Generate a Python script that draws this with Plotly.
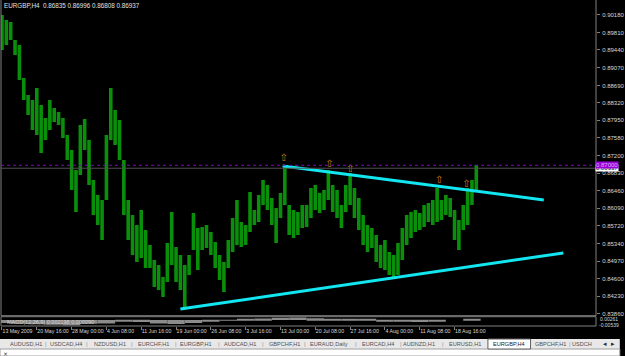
import plotly.graph_objects as go

# ---------------- data ----------------
symbol_header = "EURGBP,H4  0.86835 0.86996 0.86808 0.86937"
bar_index = list(range(0, 440, 4))  # H4 bar number (one sample per 4 bars)
high = [0.90180, 0.90074, 0.90031, 0.89651, 0.89545, 0.88847, 0.88487, 0.88381, 0.88635, 0.88275,
        0.88000, 0.88381, 0.88212, 0.88127, 0.88000, 0.87640, 0.87323, 0.86900, 0.87852, 0.87979,
        0.87535, 0.86688, 0.86371, 0.86265, 0.87640, 0.88635, 0.88169, 0.87958, 0.87111, 0.86265,
        0.85948, 0.85736, 0.86053, 0.85630, 0.85313, 0.84995, 0.84890, 0.84636, 0.85355, 0.86011,
        0.85270, 0.85101, 0.84890, 0.85101, 0.85990, 0.85673, 0.85694, 0.85736, 0.85588, 0.85376,
        0.85101, 0.84953, 0.85419, 0.85884, 0.86265, 0.85799, 0.85736, 0.86434, 0.86053, 0.86371,
        0.86688, 0.86582, 0.86307, 0.86096, 0.86413, 0.87006, 0.86159, 0.86053, 0.86011, 0.86159,
        0.86159, 0.86519, 0.86582, 0.86413, 0.86477, 0.86900, 0.86582, 0.86477, 0.86159, 0.86582,
        0.86836, 0.86519, 0.86307, 0.85948, 0.85736, 0.85673, 0.85524, 0.85313, 0.85419, 0.85165,
        0.85101, 0.85355, 0.85673, 0.85948, 0.86011, 0.86053, 0.85990, 0.86159, 0.86202, 0.86265,
        0.86519, 0.86265, 0.86371, 0.86307, 0.86053, 0.85842, 0.86159, 0.86519, 0.86688, 0.87006]
low = [0.89439, 0.89545, 0.89651, 0.89333, 0.88804, 0.88381, 0.88064, 0.87746, 0.87640, 0.87260,
       0.87535, 0.87746, 0.87915, 0.87852, 0.87577, 0.87111, 0.86477, 0.86011, 0.86794, 0.87323,
       0.86582, 0.85948, 0.85736, 0.85419, 0.86265, 0.87535, 0.87429, 0.87111, 0.85948, 0.85419,
       0.85101, 0.84953, 0.85038, 0.84826, 0.84826, 0.84424, 0.84361, 0.84212, 0.84530, 0.84890,
       0.84530, 0.84361, 0.83980, 0.84678, 0.85207, 0.84784, 0.85207, 0.85249, 0.85101, 0.84826,
       0.84572, 0.84318, 0.84826, 0.85165, 0.85313, 0.85270, 0.85313, 0.85588, 0.85736, 0.85799,
       0.86159, 0.86053, 0.85736, 0.85355, 0.85884, 0.86159, 0.85524, 0.85461, 0.85524, 0.85673,
       0.85694, 0.85884, 0.86053, 0.85990, 0.86053, 0.86265, 0.86011, 0.85884, 0.85673, 0.86011,
       0.86159, 0.85884, 0.85630, 0.85313, 0.85165, 0.85249, 0.84953, 0.84826, 0.84784, 0.84678,
       0.84615, 0.84678, 0.84995, 0.85313, 0.85461, 0.85588, 0.85630, 0.85694, 0.85799, 0.85736,
       0.85799, 0.85842, 0.85948, 0.85905, 0.85419, 0.85207, 0.85630, 0.85736, 0.86159, 0.86477]

date_ticks = list(range(0, 417, 32))
date_labels = ["13 May 2009", "20 May 16:00", "28 May 00:00", "4 Jun 08:00", "11 Jun 16:00",
               "19 Jun 00:00", "26 Jun 08:00", "3 Jul 16:00", "13 Jul 00:00", "20 Jul 08:00",
               "27 Jul 16:00", "4 Aug 00:00", "11 Aug 08:00", "18 Aug 16:00"]

price_ticks = [0.90180, 0.89810, 0.89440, 0.89070, 0.88690, 0.88320, 0.87950, 0.87580, 0.87200,
               0.86830, 0.86460, 0.86090, 0.85720, 0.85340, 0.84970, 0.84600, 0.84230, 0.83860]

fractal_index = [259, 301, 320, 402, 427]
fractal_price = [0.87147, 0.87006, 0.86921, 0.86673, 0.86589]

upper_index = [258, 498]
upper_price = [0.86984, 0.86265]
lower_index = [164, 516]
lower_price = [0.83959, 0.85144]

bid_price = 0.86937
alert_price = 0.87000

macd_index = list(range(0, 433, 16))
macd_hist = [-0.0030, -0.0038, -0.0045, -0.0050, -0.0054, -0.0040, -0.0035, -0.0010, -0.0020, -0.0035,
             -0.0042, -0.0030, -0.0018, -0.0005, 0.0008, 0.0015, 0.0022, 0.0026, 0.0018, 0.0012,
             0.0010, 0.0004, -0.0008, -0.0016, -0.0020, -0.0014, 0.0000, 0.0010]
macd_text = "MACD(12,26,9) 0.002198 0.000290"
macd_max_label = "0.00261"
macd_min_label = "-0.00539"

tab_labels = ["AUDUSD,H1", "USDCAD,H4", "NZDUSD,H1", "EURCHF,H1", "EURGBP,H1", "AUDCAD,H1",
              "GBPCHF,H1", "EURAUD,Daily", "EURCAD,H4", "AUDNZD,H1", "EURUSD,H1", "EURGBP,H4",
              "GBPCHF,H1", "USDCH"]
active_tab = "EURGBP,H4"

# ---------------- layout helpers ----------------
W, H = 625, 356
ML, MR, MT, MB = 1, 24, 0, 30
PW, PH = W - ML - MR, H - MT - MB


def fx(px):
    return (px - ML) / PW


def fy(py):
    return (PH + MT - py) / PH


FONT = "Liberation Sans, Arial, sans-serif"
TXT = "#d8d8d8"
GRID = "#808080"

fig = go.Figure()

fig.add_trace(go.Bar(
    x=bar_index, base=low, y=[h - l for h, l in zip(high, low)],
    width=3.3, marker=dict(color="#0a8f0a", line=dict(width=0)),
    xaxis="x", yaxis="y", hoverinfo="skip"))

fig.add_trace(go.Scatter(x=upper_index, y=upper_price, mode="lines",
                         line=dict(color="#12e6f0", width=3), xaxis="x", yaxis="y"))
fig.add_trace(go.Scatter(x=lower_index, y=lower_price, mode="lines",
                         line=dict(color="#12e6f0", width=3), xaxis="x", yaxis="y"))

fig.add_trace(go.Scatter(x=fractal_index, y=fractal_price, mode="text", text=["⇧"] * len(fractal_index),
                         textfont=dict(color="#d07a1c", size=10, family="DejaVu Sans"),
                         xaxis="x", yaxis="y"))

fig.add_trace(go.Bar(x=macd_index, y=macd_hist, width=16, marker=dict(color="#8c8c8c", line=dict(width=0)),
                     xaxis="x2", yaxis="y2", hoverinfo="skip"))

xr = [(ML - 2) / 1.097, (ML + PW - 2) / 1.097]
main_bottom = fy(315.7)
macd_top = fy(316.7)

fig.update_layout(
    width=W, height=H, margin=dict(l=ML, r=MR, t=MT, b=MB, pad=0),
    paper_bgcolor="black", plot_bgcolor="black", showlegend=False, barmode="overlay",
    font=dict(family=FONT, size=6, color=TXT),
    xaxis=dict(domain=[0, 1], range=xr, anchor="y", showticklabels=False, showgrid=False,
               zeroline=False, ticks=""),
    yaxis=dict(domain=[main_bottom, 1], range=[0.90497 - 0.0002116 * 315.7, 0.90497], side="right",
               anchor="x", tickvals=price_ticks, ticktext=[f"{v:.5f}" for v in price_ticks],
               ticks="outside", ticklen=3, tickcolor=GRID, showgrid=False, zeroline=False,
               tickfont=dict(family=FONT, size=6, color=TXT), ticklabelstandoff=1),
    xaxis2=dict(domain=[0, 1], range=xr, anchor="y2", tickvals=date_ticks, ticktext=date_labels,
                ticks="outside", ticklen=3, tickcolor=GRID, showgrid=False, zeroline=False,
                tickangle=0, ticklabelposition="outside right",
                tickfont=dict(family=FONT, size=5.2, color=TXT)),
    yaxis2=dict(domain=[0, macd_top], range=[-0.0062, 0.0034], anchor="x2", side="right",
                showticklabels=False, ticks="", showgrid=False, zeroline=False),
)

shapes = [
    dict(type="rect", xref="x domain", yref="y domain", x0=0, x1=1, y0=0, y1=1.01,
         line=dict(color=GRID, width=1)),
    dict(type="rect", xref="x2 domain", yref="y2 domain", x0=0, x1=1, y0=0, y1=1,
         line=dict(color=GRID, width=1)),
    dict(type="line", xref="x domain", yref="y", x0=0, x1=1, y0=alert_price, y1=alert_price,
         line=dict(color="#8a00d0", width=1, dash="dot")),
    dict(type="line", xref="x domain", yref="y", x0=0, x1=1, y0=bid_price, y1=bid_price,
         line=dict(color="#505050", width=1)),
    # tab bar
    dict(type="rect", xref="paper", yref="paper", x0=fx(0), x1=fx(W), y0=fy(349), y1=fy(339),
         fillcolor="#e8e8e8", line=dict(width=0), layer="above"),
    dict(type="rect", xref="paper", yref="paper", x0=fx(0), x1=fx(W), y0=fy(356), y1=fy(349),
         fillcolor="#ffffff", line=dict(color="#a0a0a0", width=1), layer="above"),
    dict(type="rect", xref="paper", yref="paper", x0=fx(492), x1=fx(535), y0=fy(349), y1=fy(339),
         fillcolor="#ffffff", line=dict(color="#606060", width=1), layer="above"),
]
fig.update_layout(shapes=shapes)

ann = []
ann.append(dict(xref="paper", yref="paper", x=fx(2), y=fy(5), text=symbol_header, showarrow=False,
                xanchor="left", yanchor="middle", font=dict(size=6.3, color="#e0e0e0", family=FONT)))
ann.append(dict(xref="paper", yref="paper", x=fx(5), y=fy(322), text=macd_text, showarrow=False,
                xanchor="left", yanchor="middle", font=dict(size=5.5, color="#d0d0d0", family=FONT)))
ann.append(dict(xref="paper", yref="paper", x=fx(603), y=fy(319), text=macd_max_label, showarrow=False,
                xanchor="left", yanchor="middle", font=dict(size=5, color=TXT, family=FONT)))
ann.append(dict(xref="paper", yref="paper", x=fx(602), y=fy(324.5), text=macd_min_label, showarrow=False,
                xanchor="left", yanchor="middle", font=dict(size=5, color=TXT, family=FONT)))
ann.append(dict(xref="paper", yref="y", x=fx(600), y=bid_price, text=f"{bid_price:.5f}", showarrow=False,
                xanchor="left", yanchor="middle", bgcolor="#ffffff", borderpad=0,
                font=dict(size=6, color="#000000", family=FONT)))
ann.append(dict(xref="paper", yref="y", x=fx(600), y=alert_price, text=f"{alert_price:.5f}", showarrow=False,
                xanchor="left", yanchor="middle", bgcolor="#9a00dc", borderpad=0,
                font=dict(size=6, color="#d8b0f0", family=FONT)))

tab_centers = [26, 67, 111, 155, 198, 242, 287, 332, 381, 423, 469, 513, 555, 587]
for lab, cx in zip(tab_labels, tab_centers):
    ann.append(dict(xref="paper", yref="paper", x=fx(cx), y=fy(344), text=lab, showarrow=False,
                    xanchor="center", yanchor="middle",
                    font=dict(size=5.6, color="#202020" if 490 < cx < 535 else "#505050",
                              family=FONT)))
for sx in [46, 88, 133, 177, 221, 265, 308, 359, 404, 447, 575]:
    ann.append(dict(xref="paper", yref="paper", x=fx(sx), y=fy(344), text="|", showarrow=False,
                    xanchor="center", yanchor="middle", font=dict(size=6, color="#909090", family=FONT)))
ann.append(dict(xref="paper", yref="paper", x=fx(610), y=fy(344), text="◂", showarrow=False,
                xanchor="center", yanchor="middle",
                font=dict(size=7, color="#303030", family="DejaVu Sans")))
ann.append(dict(xref="paper", yref="paper", x=fx(618), y=fy(344), text="▸", showarrow=False,
                xanchor="center", yanchor="middle",
                font=dict(size=7, color="#303030", family="DejaVu Sans")))
ann.append(dict(xref="paper", yref="paper", x=fx(1), y=fy(353), text="×", showarrow=False,
                xanchor="left", yanchor="middle",
                font=dict(size=6, color="#303030", family="DejaVu Sans")))
fig.update_layout(annotations=ann)

fig.write_html("out.html")
